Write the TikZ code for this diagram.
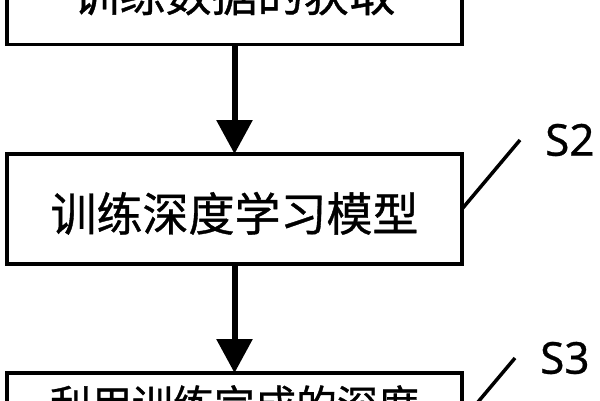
\documentclass[tikz,border=0pt]{standalone}
\usepackage{fontspec}
\setsansfont[FakeBold=0.6]{Noto Sans}
\newfontfamily\cjk[FakeBold=0.8]{Noto Sans CJK SC}
\usetikzlibrary{arrows.meta, positioning}

\begin{document}
\begin{tikzpicture}[x=1pt, y=1pt, node distance=109pt,
        stepbox/.style={draw, line width=3.5pt, outer sep=0pt, minimum width=455pt, minimum height=110pt,
            text height=50pt, text depth=6pt, font=\cjk\fontsize{46pt}{50pt}\selectfont},
        steplabel/.style={inner sep=0pt, font=\sffamily\fontsize{44pt}{48pt}\selectfont},
        flowarrow/.style={-{Triangle[width=35pt, length=34pt]}, line width=6pt},
        tickline/.style={line width=3.5pt}]
        \useasboundingbox (0,0) rectangle (600,-400);
        \clip (0,0) rectangle (600,-400);

        \node[stepbox] (model) at (234.5,-209) {训练深度学习模型};
        \node[stepbox, above=109.5pt of model] (data) {训练数据的获取};
        \node[stepbox, below=of model, minimum height=96pt] (use) {};
        \node[below=12pt of use.north, inner sep=0pt, font=\cjk\fontsize{41pt}{45pt}\selectfont] (usetext) {利用训练完成的深度};

        \coordinate[above right=69pt and 58pt of model.east] (s2tick);
        \coordinate[above right=63pt and 53pt of use.east] (s3tick);
        \node[steplabel, right=25pt of s2tick] (s2) {S2};
        \node[steplabel, right=25pt of s3tick] (s3) {S3};

        \path[flowarrow] (data) edge node {} (model);
        \path[flowarrow] (model) edge node {} (use);
        \draw[tickline] (model.east) -- (s2tick);
        \draw[tickline] (use.east) -- (s3tick);
    \end{tikzpicture}
\end{document}
